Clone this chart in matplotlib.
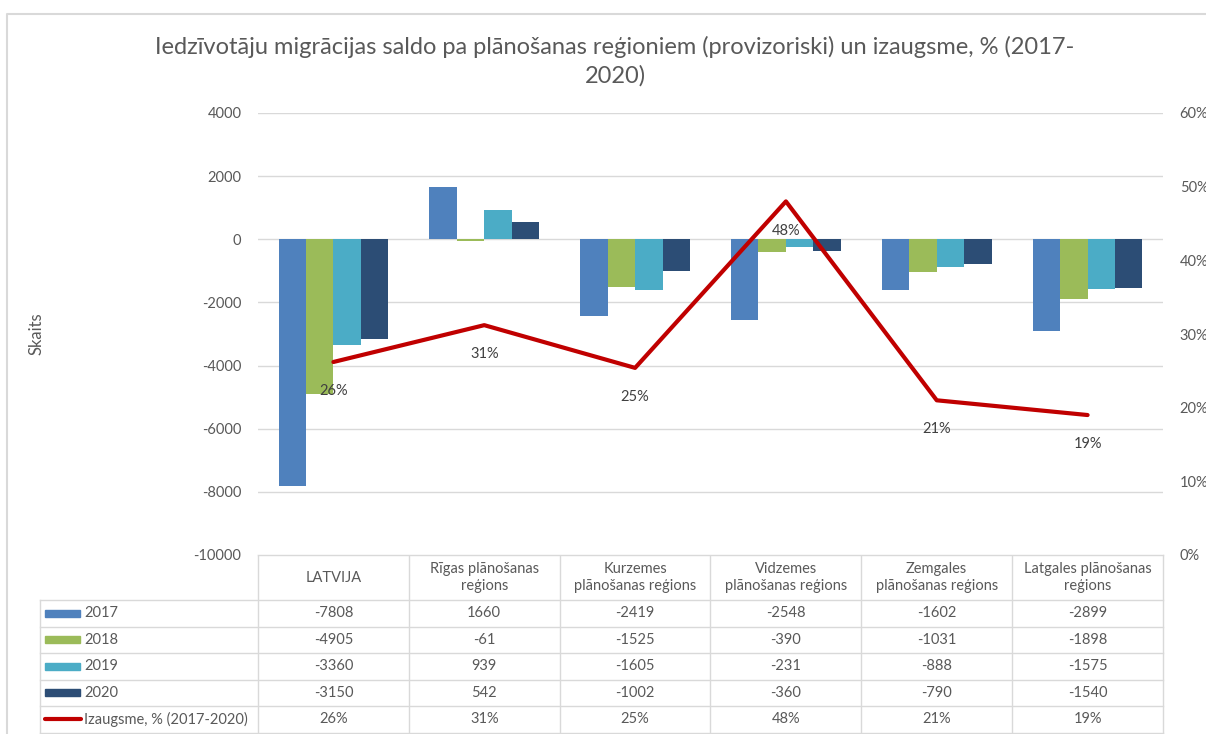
import matplotlib.pyplot as plt
import matplotlib.transforms as mtransforms
import numpy as np

# data

regions = ['LATVIJA', 'Rīgas plānošanas\nreģions', 'Kurzemes\nplānošanas reģions',
           'Vidzemes\nplānošanas reģions', 'Zemgales\nplānošanas reģions',
           'Latgales plānošanas\nreģions']
years = ['2017', '2018', '2019', '2020']
saldo_2017 = [-7808, 1660, -2419, -2548, -1602, -2899]
saldo_2018 = [-4905, -61, -1525, -390, -1031, -1898]
saldo_2019 = [-3360, 939, -1605, -231, -888, -1575]
saldo_2020 = [-3150, 542, -1002, -360, -790, -1540]
growth = [0.262, 0.312, 0.254, 0.48, 0.21, 0.19]
growth_name = 'Izaugsme, % (2017-2020)'

series = [saldo_2017, saldo_2018, saldo_2019, saldo_2020]
colors = ['#4F81BD', '#9BBB59', '#4BACC6', '#2C4D75']
line_color = '#C00000'
text_color = '#595959'
grid_color = '#D9D9D9'

plt.rcParams['font.family'] = ['Lato', 'DejaVu Sans']
plt.rcParams['axes.unicode_minus'] = False

W, H = 1206, 734
fig = plt.figure(figsize=(W / 100, H / 100), dpi=100)

# overlay axes in pixel coordinates for frame and table
over = fig.add_axes([0, 0, 1, 1], zorder=-1)
over.set_xlim(0, W)
over.set_ylim(H, 0)
over.axis('off')

# chart frame
over.plot([7, 7, W + 5], [H + 5, 14, 14], color=grid_color, lw=1.5)

# main plot area
x0, x1, ytop, ybot = 258, 1163, 113, 555
ax = fig.add_axes([x0 / W, 1 - ybot / H, (x1 - x0) / W, (ybot - ytop) / H])
x = np.arange(len(regions))
n = len(series)
bw = 1 / (n + 1.5)
for i, (vals, c, yr) in enumerate(zip(series, colors, years)):
    ax.bar(x + (i - (n - 1) / 2) * bw, vals, width=bw, color=c, label=yr, zorder=2)

ax.set_xlim(-0.5, len(regions) - 0.5)
ax.set_ylim(-10000, 4000)
ax.set_yticks(np.arange(-10000, 4001, 2000))
ax.set_xticks([])
ax.grid(axis='y', color=grid_color, lw=1, zorder=0)
for s in ax.spines.values():
    s.set_visible(False)
ax.tick_params(axis='y', length=0, pad=12, labelsize=10.5, labelcolor=text_color)
ax.set_ylabel('Skaits', fontsize=12, color=text_color)
ax.yaxis.set_label_coords((44 - x0) / (x1 - x0), 0.5)

ax2 = ax.twinx()
ax2.plot(x, growth, color=line_color, lw=3, solid_capstyle='round', zorder=3)
for xi, g in zip(x, growth):
    ax2.annotate(f'{g:.0%}', (xi, g), xytext=(0, -21), textcoords='offset points',
                 ha='center', va='center', fontsize=10.5, color='#404040')
ax2.set_ylim(0, 0.6)
ax2.set_yticks(np.arange(0, 0.61, 0.1))
ax2.set_yticklabels([f'{t:.0%}' for t in np.arange(0, 0.61, 0.1)])
for s in ax2.spines.values():
    s.set_visible(False)
ax2.tick_params(axis='y', length=0, pad=12, labelsize=10.5, labelcolor=text_color)

fig.text(0.51, 1 - 47 / H, 'Iedzīvotāju migrācijas saldo pa plānošanas reģioniem (provizoriski) un izaugsme, % (2017-',
         ha='center', va='center', fontsize=17, color=text_color)
fig.text(0.51, 1 - 76 / H, '2020)', ha='center', va='center', fontsize=17, color=text_color)

# data table below the chart
tr = mtransforms.blended_transform_factory(ax.transData, over.transData)
row_h = 26.5
header_top, header_bot = 555, 600
rows_y = [header_bot + k * row_h for k in range(6)]
tab_left = 40
kw = dict(color=grid_color, lw=1, clip_on=False)

# header cells
over.plot([x0, x1], [header_top, header_top], **kw)
for k in range(len(regions) + 1):
    over.plot([k - 0.5, k - 0.5], [header_top, rows_y[-1]], transform=tr, **kw)
for k, r in enumerate(regions):
    over.text(k, (header_top + header_bot) / 2, r, transform=tr, ha='center', va='center',
              fontsize=10.5, color=text_color, linespacing=1.3)

# body rows
for yy in rows_y:
    over.plot([tab_left, x1], [yy, yy], **kw)
over.plot([tab_left, tab_left], [header_bot, rows_y[-1]], **kw)

row_vals = series + [growth]
row_names = years + [growth_name]
for k, (name, vals) in enumerate(zip(row_names, row_vals)):
    yc = rows_y[k] + row_h / 2
    if k < n:
        over.add_patch(plt.Rectangle((45, yc - 3.5), 35, 7, color=colors[k]))
        labels = [str(v) for v in vals]
    else:
        over.plot([45, 81], [yc, yc], color=line_color, lw=3, solid_capstyle='round')
        labels = [f'{v:.0%}' for v in vals]
    over.text(84, yc, name, ha='left', va='center', fontsize=10.5, color=text_color)
    for j, lab in enumerate(labels):
        over.text(j, yc, lab, transform=tr, ha='center', va='center', fontsize=10.5,
                  color=text_color)

fig.savefig('out.png', dpi=100)
